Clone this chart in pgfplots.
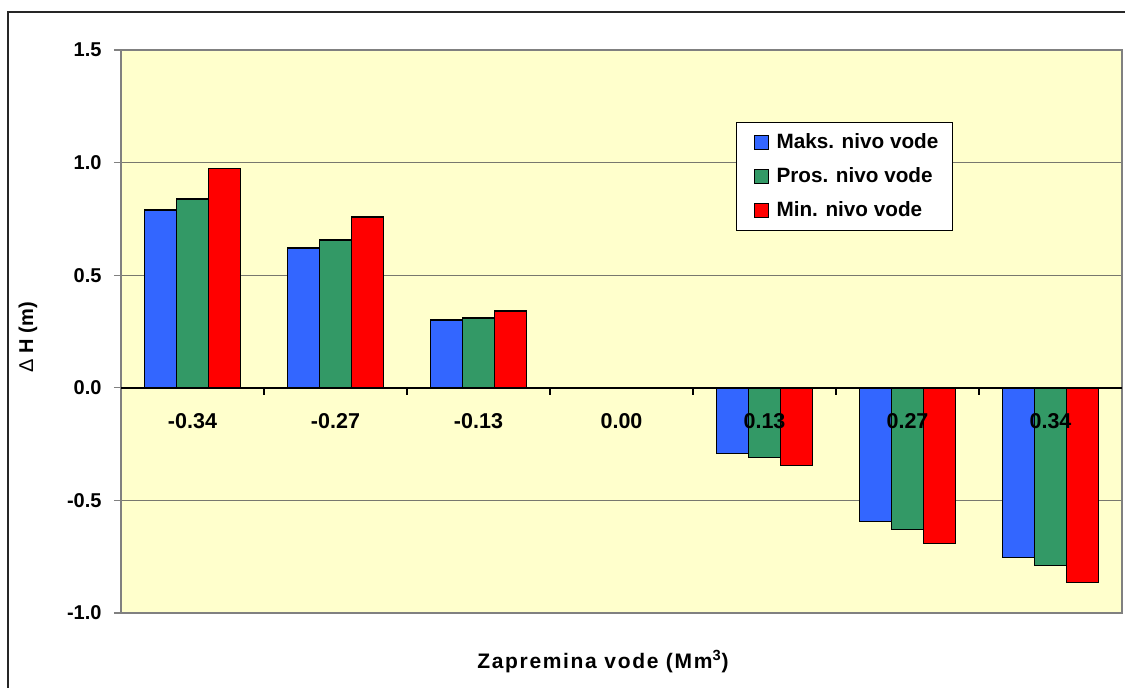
\documentclass[border=0pt]{standalone}
\usepackage{pgfplots}
\pgfplotsset{compat=1.18}
\usepackage{fontspec}
\setmainfont{Liberation Sans}
\definecolor{bblue}{RGB}{51,102,255}
\definecolor{bgreen}{RGB}{51,153,102}
\definecolor{bred}{RGB}{255,0,0}
\definecolor{plotbg}{RGB}{255,255,204}
\definecolor{gridc}{RGB}{120,120,110}
\begin{document}
\begin{tikzpicture}[x=1pt,y=1pt]
\useasboundingbox (0,0) rectangle (562.5,344);
\draw[line width=0.7pt, black!85] (4,-3) -- (4,338) -- (566,338);
\begin{axis}[
  at={(60.5pt,37.5pt)}, anchor=south west,
  scale only axis, width=500.5pt, height=281.5pt,
  xmin=-0.5, xmax=6.5, ymin=-1, ymax=1.5,
  axis background/.style={fill=plotbg},
  axis line style={gray, line width=0.6pt},
  xtick=\empty,
  ytick={-1,-0.5,0,0.5,1,1.5},
  yticklabels={-1.0,-0.5,0.0,0.5,1.0,1.5},
  yticklabel style={font=\bfseries\fontsize{10}{12}\selectfont, xshift=-2.7pt},
  tick align=outside, ytick pos=left, major tick length=3.5pt,
  ytick style={gray, line width=0.6pt},
  ymajorgrids, grid style={gridc, line width=0.5pt},
  ybar, bar width=0.224,
  legend style={at={(axis description cs:0.614,0.872)}, anchor=north west,
    draw=black, line width=0.5pt, fill=white,
    font=\bfseries\fontsize{10.35}{12}\selectfont,
    inner xsep=5pt, inner ysep=3.4pt, row sep=4.1pt},
  legend cell align=left,
  legend image code/.code={\path (0pt,0pt); \draw[#1, draw=black, line width=0.6pt] (4pt,-3.5pt) rectangle (11pt,3.5pt); \path (12.5pt,0pt);},
  clip=false,
]
\addplot[fill=bblue, draw=black, line width=0.7pt, bar shift=-0.224] coordinates {
(0,0.789) (1,0.620) (2,0.301) (3,0) (4,-0.293) (5,-0.594) (6,-0.754)};
\addplot[fill=bgreen, draw=black, line width=0.7pt, bar shift=0] coordinates {
(0,0.838) (1,0.656) (2,0.310) (3,0) (4,-0.310) (5,-0.629) (6,-0.789)};
\addplot[fill=bred, draw=black, line width=0.7pt, bar shift=0.224] coordinates {
(0,0.975) (1,0.758) (2,0.341) (3,0) (4,-0.346) (5,-0.691) (6,-0.864)};
\legend{Maks. nivo vode, Pros. nivo vode, Min. nivo vode}
\draw[black, line width=0.8pt] (axis cs:-0.5,0) -- (axis cs:6.5,0);
\pgfplotsinvokeforeach{0.5,1.5,2.5,3.5,4.5,5.5}{
  \draw[black, line width=0.6pt] (axis cs:#1,0) -- ++(0pt,-3.5pt);
}
\begin{scope}[every node/.style={font=\bfseries\fontsize{10.75}{12}\selectfont, yshift=-16.75pt}]
\node at (axis cs:0,0) {-0.34};
\node at (axis cs:1,0) {-0.27};
\node at (axis cs:2,0) {-0.13};
\node at (axis cs:3,0) {0.00};
\node at (axis cs:4,0) {0.13};
\node at (axis cs:5,0) {0.27};
\node at (axis cs:6,0) {0.34};
\end{scope}
\node[font=\bfseries\fontsize{10.5}{12}\selectfont\addfontfeature{LetterSpace=8}] at (axis description cs:0.4815,0) [yshift=-24.5pt] {Zapremina vode (Mm\textsuperscript{3})};
\node[font=\bfseries\fontsize{10}{12}\selectfont, rotate=90] at (axis description cs:-0.093,0.49) {{\mdseries Δ} H (m)};
\end{axis}
\end{tikzpicture}
\end{document}
